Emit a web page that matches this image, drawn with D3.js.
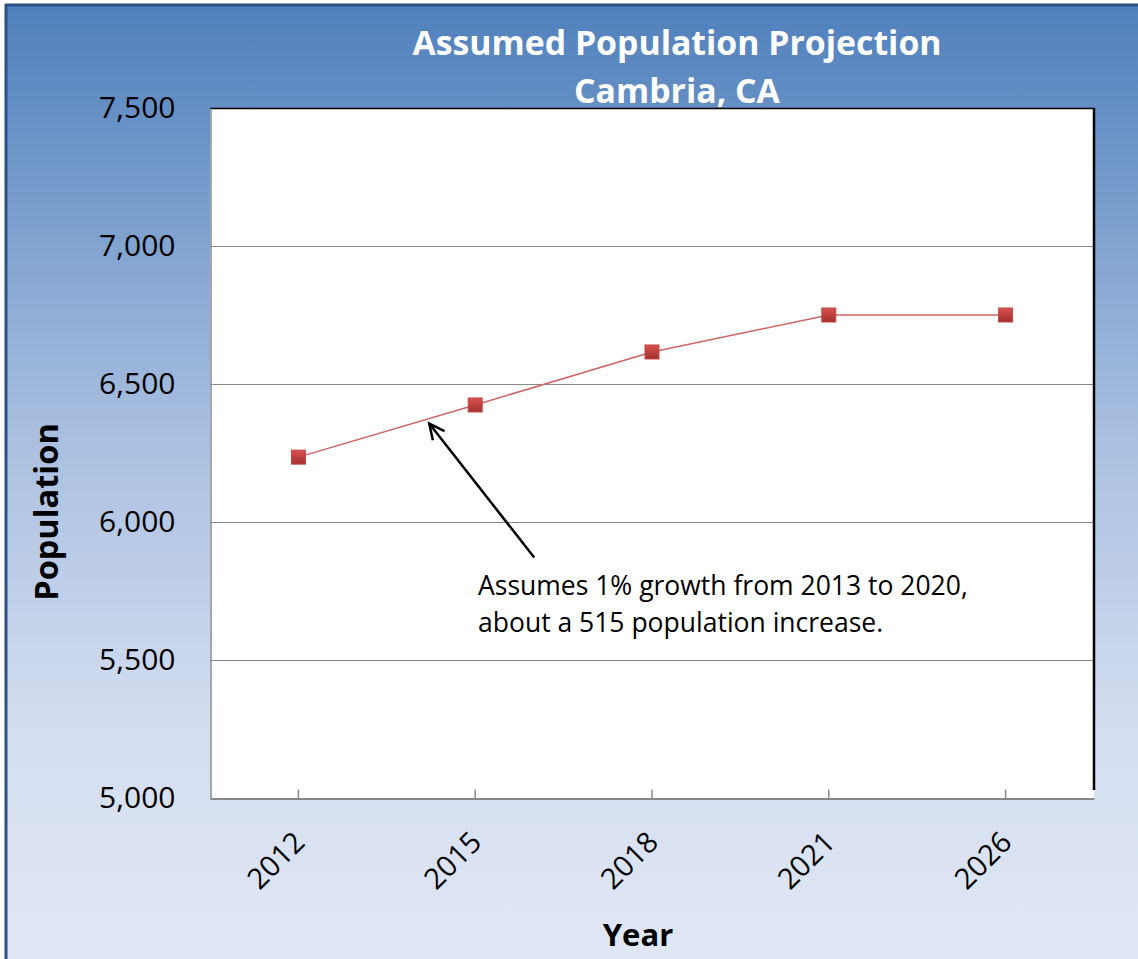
<!DOCTYPE html>
<html>
<head>
<meta charset="utf-8">
<script src="https://cdn.jsdelivr.net/npm/d3@7"></script>
<style>
  html, body { margin: 0; padding: 0; background: #ffffff; }
  svg { display: block; }
  text { font-family: "Open Sans", "DejaVu Sans", sans-serif; font-variant-ligatures: none; }
</style>
</head>
<body>
<svg id="chart" width="1138" height="959"></svg>
<script>
// Projected population of Cambria, CA
const years = ["2012", "2015", "2018", "2021", "2026"];
const population = [6235, 6424, 6616, 6750, 6750];
const yTicks = [5000, 5500, 6000, 6500, 7000, 7500];
const titleLines = ["Assumed Population Projection", "Cambria, CA"];
const noteLines = ["Assumes 1% growth from 2013 to 2020,", "about a 515 population increase."];

const W = 1138, H = 959;
const plot = { left: 210, right: 1094, top: 108, bottom: 798 };

const svg = d3.select("#chart");
const defs = svg.append("defs");

const bg = defs.append("linearGradient").attr("id", "bg").attr("x1", 0).attr("y1", 0).attr("x2", 0).attr("y2", 1);
bg.append("stop").attr("offset", "0%").attr("stop-color", "#4f80bc");
bg.append("stop").attr("offset", "45%").attr("stop-color", "#a9bfe0");
bg.append("stop").attr("offset", "75%").attr("stop-color", "#d3ddf0");
bg.append("stop").attr("offset", "100%").attr("stop-color", "#e0e7f5");

const mk = defs.append("linearGradient").attr("id", "mk").attr("x1", 0).attr("y1", 0).attr("x2", 0).attr("y2", 1);
mk.append("stop").attr("offset", "0%").attr("stop-color", "#d9524f");
mk.append("stop").attr("offset", "100%").attr("stop-color", "#a4302e");

// chart frame
svg.append("rect").attr("x", 5).attr("y", 4).attr("width", W - 5).attr("height", H - 4).attr("fill", "url(#bg)");
svg.append("line").attr("x1", 5).attr("x2", W).attr("y1", 5).attr("y2", 5).attr("stroke", "#2b5185").attr("stroke-width", 3);
svg.append("line").attr("x1", 6).attr("x2", 6).attr("y1", 4).attr("y2", H).attr("stroke", "#2b5185").attr("stroke-width", 3);

// scales
const x = d3.scaleBand().domain(years).range([plot.left, plot.right]);
const cx = d => x(d) + x.bandwidth() / 2;
const y = d3.scaleLinear().domain([5000, 7500]).range([plot.bottom, plot.top]);

// plot area
svg.append("rect").attr("x", plot.left).attr("y", plot.top)
  .attr("width", plot.right - plot.left).attr("height", plot.bottom - plot.top).attr("fill", "#ffffff");

// gridlines
svg.append("g").selectAll("line").data(yTicks.slice(1, -1)).join("line")
  .attr("x1", plot.left).attr("x2", plot.right)
  .attr("y1", d => Math.round(y(d)) + 0.5).attr("y2", d => Math.round(y(d)) + 0.5)
  .attr("stroke", "#888888").attr("stroke-width", 1);

// plot borders
svg.append("line").attr("x1", plot.left).attr("x2", plot.right + 1).attr("y1", plot.top + 0.5).attr("y2", plot.top + 0.5).attr("stroke", "#000").attr("stroke-width", 1.5);
svg.append("line").attr("x1", plot.right).attr("x2", plot.right).attr("y1", plot.top).attr("y2", plot.bottom - 8).attr("stroke", "#000").attr("stroke-width", 2.5);

// y axis
const yAxis = d3.axisLeft(y).tickValues(yTicks).tickFormat(d3.format(",")).tickSize(0).tickPadding(35);
const gy = svg.append("g").attr("transform", `translate(${plot.left + 0.5},0)`).call(yAxis);
gy.select(".domain").attr("stroke", "#888888").attr("stroke-width", 1.5);
gy.selectAll("text").attr("font-size", 30).attr("fill", "#000").attr("font-family", "'Open Sans', sans-serif");

// x axis
const xAxis = d3.axisBottom(x).tickSize(-9).tickSizeOuter(0).tickFormat("");
const gx = svg.append("g").attr("transform", `translate(0,${plot.bottom + 0.5})`).call(xAxis);
gx.select(".domain").attr("stroke", "#888888").attr("stroke-width", 2);
gx.selectAll(".tick line").attr("stroke", "#888888").attr("stroke-width", 1.5);

svg.append("g").selectAll("text").data(years).join("text")
  .attr("transform", d => `translate(${cx(d) + 8},${plot.bottom + 46}) rotate(-45)`)
  .attr("text-anchor", "end").attr("font-size", 29).attr("fill", "#000")
  .text(d => d);

// axis titles
svg.append("text").attr("transform", `translate(58,512) rotate(-90)`)
  .attr("text-anchor", "middle").attr("font-size", 32.5).attr("font-weight", "bold").attr("fill", "#000")
  .text("Population");
svg.append("text").attr("x", 638).attr("y", 946)
  .attr("text-anchor", "middle").attr("font-size", 31).attr("font-weight", "bold").attr("fill", "#000")
  .text("Year");

// title
svg.append("g").selectAll("text").data(titleLines).join("text")
  .attr("x", 677).attr("y", (d, i) => 55 + i * 48)
  .attr("text-anchor", "middle").attr("font-size", 33.8).attr("font-weight", "bold").attr("fill", "#ffffff")
  .text(d => d);

// series line and markers
const pts = years.map((yr, i) => ({ year: yr, value: population[i] }));
svg.append("path").datum(pts)
  .attr("d", d3.line().x(d => cx(d.year)).y(d => y(d.value)))
  .attr("fill", "none").attr("stroke", "#d06462").attr("stroke-width", 1.5);
svg.append("g").selectAll("rect").data(pts).join("rect")
  .attr("x", d => cx(d.year) - 7).attr("y", d => y(d.value) - 7)
  .attr("width", 14).attr("height", 14)
  .attr("fill", "url(#mk)").attr("stroke", "#c24846").attr("stroke-width", 1);

// annotation arrow: tip sits on the series line between 2012 and 2015
const frac = 0.74;
const tipX = cx(years[0]) + frac * (cx(years[1]) - cx(years[0]));
const tipY = y(population[0] + frac * (population[1] - population[0])) + 5;
const tailX = tipX + 105, tailY = tipY + 134;
const ang = Math.atan2(tailY - tipY, tailX - tipX);
const hl = 17, ha = 0.45;
svg.append("line").attr("x1", tailX).attr("y1", tailY).attr("x2", tipX).attr("y2", tipY)
  .attr("stroke", "#000").attr("stroke-width", 2.5);
svg.append("path")
  .attr("d", `M${tipX + hl * Math.cos(ang - ha)},${tipY + hl * Math.sin(ang - ha)}L${tipX},${tipY}L${tipX + hl * Math.cos(ang + ha)},${tipY + hl * Math.sin(ang + ha)}`)
  .attr("fill", "none").attr("stroke", "#000").attr("stroke-width", 2.5);

svg.append("g").selectAll("text").data(noteLines).join("text")
  .attr("x", 478).attr("y", (d, i) => 595 + i * 37)
  .attr("font-size", 26.5).attr("fill", "#000")
  .text(d => d);
</script>
</body>
</html>
